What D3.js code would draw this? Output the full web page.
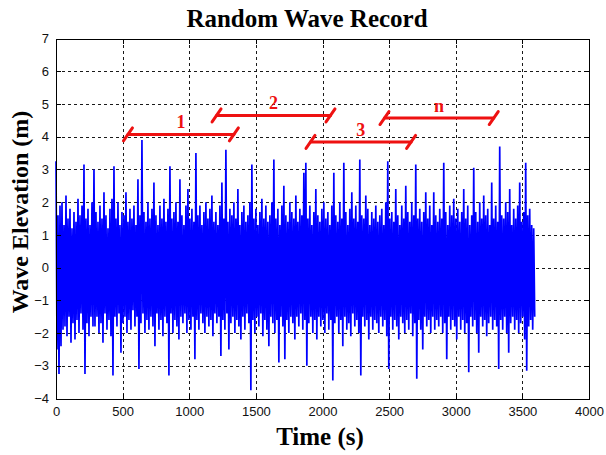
<!DOCTYPE html>
<html>
<head>
<meta charset="utf-8">
<script src="https://cdn.jsdelivr.net/npm/d3@7/dist/d3.min.js"></script>
<style>
  html, body { margin: 0; padding: 0; background: #fff; }
  svg { display: block; }
</style>
</head>
<body>
<svg id="chart" width="606" height="455"></svg>
<script>
// ---------------- DATA ----------------
const title = "Random Wave Record";
const xLabel = "Time (s)";
const yLabel = "Wave Elevation (m)";
const xTicks = [0, 500, 1000, 1500, 2000, 2500, 3000, 3500, 4000];
const yTicks = [-4, -3, -2, -1, 0, 1, 2, 3, 4, 5, 6, 7];
const sampleStep = 15;   // s between successive crests (troughs sit halfway)

// crest elevations (m), one per 15 s from t = 0
const crests = [
  3.25, 1.6, 1.9, 2.0, 1.3, 2.2, 1.5, 1.8, 1.2, 1.7,
  1.4, 2.1, 1.6, 1.9, 3.15, 1.5, 1.8, 1.3, 2.0, 3.0,
  1.7, 1.4, 1.9, 1.5, 2.3, 1.6, 1.2, 1.8, 2.1, 3.1,
  1.5, 2.0, 1.3, 1.7, 1.6, 2.3, 1.4, 1.8, 1.5, 1.9,
  1.3, 2.7, 1.6, 3.9, 1.7, 1.4, 2.0, 1.5, 1.8, 2.6,
  1.6, 1.3, 1.9, 1.5, 2.1, 1.4, 1.8, 3.1, 1.5, 1.7,
  2.0, 1.4, 2.7, 1.6, 1.3, 1.9, 2.4, 1.5, 1.8, 1.4,
  3.5, 1.6, 1.9, 1.3, 1.7, 2.0, 1.5, 1.8, 2.2, 1.4,
  1.7, 1.3, 1.9, 2.6, 1.5, 3.6, 1.4, 1.8, 1.6, 2.0,
  1.5, 2.4, 1.3, 1.7, 1.9, 1.4, 1.6, 2.0, 3.15, 1.5,
  1.8, 1.3, 1.7, 2.1, 1.5, 1.9, 1.4, 1.6, 2.0, 3.3,
  1.5, 1.8, 1.3, 1.9, 2.5, 1.6, 1.4, 2.0, 1.7, 1.5,
  2.2, 1.4, 1.8, 1.6, 2.9, 3.2, 1.5, 1.9, 1.3, 1.7,
  2.4, 1.6, 1.4, 1.8, 2.0, 1.5, 1.7, 1.3, 1.9, 2.9,
  1.6, 1.4, 2.0, 1.5, 3.2, 1.7, 1.3, 1.8, 2.3, 1.5,
  1.9, 1.4, 3.3, 1.6, 1.5, 2.2, 1.8, 1.3, 1.7, 1.5,
  1.9, 1.4, 1.6, 1.8, 1.3, 2.0, 3.25, 1.5, 1.7, 1.4,
  2.4, 1.6, 1.3, 1.9, 1.5, 2.5, 1.7, 1.4, 2.0, 1.6,
  3.15, 1.5, 1.8, 1.4, 1.7, 2.3, 1.5, 1.9, 1.3, 2.3,
  1.6, 1.4, 1.8, 1.5, 3.2, 1.7, 1.3, 1.9, 1.6, 2.1,
  1.5, 1.8, 1.4, 1.7, 2.4, 1.5, 1.9, 1.3, 1.6, 3.05,
  1.7, 1.4, 2.0, 1.5, 2.2, 1.6, 1.8, 1.3, 2.6, 1.5,
  1.9, 1.4, 3.7, 1.6, 1.5, 2.0, 1.7, 2.4, 1.3, 1.8,
  1.5, 1.9, 2.6, 1.4, 1.7, 3.2, 1.6, 1.8, 1.3, 1.2
];

// trough elevations (m), one per 15 s from t = 7.5
const troughs = [
  -2.5, -3.25, -2.4, -1.9, -1.8, -2.1, -1.5, -2.3, -1.7, -2.2,
  -1.6, -2.0, -1.4, -1.9, -3.25, -1.7, -2.1, -1.5, -1.8, -1.8,
  -1.5, -2.0, -1.7, -2.3, -1.4, -1.9, -1.6, -2.1, -3.3, -1.5,
  -1.8, -1.4, -2.6, -1.7, -1.5, -2.0, -1.6, -1.9, -1.3, -1.8,
  -1.5, -3.1, -1.7, -1.4, -2.0, -1.6, -1.9, -1.5, -1.8, -2.4,
  -1.4, -1.9, -1.6, -2.1, -1.5, -1.7, -3.3, -1.4, -2.0, -1.6,
  -1.8, -2.2, -1.5, -1.7, -1.4, -2.0, -1.6, -1.9, -1.5, -2.8,
  -1.6, -1.9, -1.4, -1.7, -2.0, -1.5, -1.8, -1.6, -2.1, -1.4,
  -1.7, -1.5, -2.7, -1.6, -1.9, -1.4, -2.5, -1.7, -1.5, -2.0,
  -1.6, -1.8, -2.2, -1.5, -1.9, -1.4, -1.7, -3.75, -1.6, -2.0,
  -1.5, -1.8, -1.4, -2.1, -1.6, -1.9, -2.4, -1.5, -1.7, -2.0,
  -1.6, -2.9, -1.5, -1.8, -2.8, -1.6, -2.0, -1.5, -1.7, -2.2,
  -1.5, -1.8, -1.4, -1.9, -1.6, -3.0, -1.7, -1.5, -2.0, -1.6,
  -2.2, -1.5, -1.8, -1.6, -2.0, -1.4, -1.9, -1.6, -3.45, -1.7,
  -1.5, -2.0, -1.6, -2.4, -1.5, -1.9, -1.7, -2.1, -1.4, -1.8,
  -1.6, -2.0, -3.3, -1.5, -1.8, -1.6, -2.2, -1.5, -1.9, -1.6,
  -1.7, -2.0, -1.5, -1.8, -1.6, -2.1, -3.1, -1.5, -1.9, -1.6,
  -1.8, -2.2, -1.5, -1.7, -2.0, -1.6, -1.9, -1.4, -2.1, -1.7,
  -3.4, -1.6, -1.9, -2.5, -1.5, -1.8, -1.6, -2.0, -1.5, -1.9,
  -1.6, -1.8, -1.5, -2.0, -1.7, -2.8, -1.5, -1.9, -1.6, -1.8,
  -2.2, -1.5, -1.9, -1.6, -2.0, -1.7, -3.2, -1.5, -1.8, -1.6,
  -2.0, -2.6, -1.5, -1.8, -1.6, -2.1, -1.7, -1.5, -1.9, -1.6,
  -1.8, -3.1, -1.6, -1.9, -1.5, -2.0, -2.6, -1.7, -1.5, -1.9,
  -1.6, -2.0, -1.7, -1.5, -2.2, -3.15, -1.8, -1.6, -1.9, -1.5
];

// record segments marked with red brackets
const segLabels = ["1", "2", "3", "n"];
const segStart  = [540, 1205, 1910, 2465];
const segEnd    = [1335, 2060, 2665, 3285];
const segLevel  = [4.07, 4.65, 3.84, 4.57];

// ---------------- LAYOUT ----------------
const svg = d3.select("#chart");
const L = 56, R = 589, T = 38.5, B = 398.5;

const x = d3.scaleLinear().domain([0, 4000]).range([L, R]);
const y = d3.scaleLinear().domain([-4, 7]).range([B, T]);

// build the record from crests and troughs
const record = [];
crests.forEach((c, k) => {
  record.push({ t: k * sampleStep, v: c });
  record.push({ t: k * sampleStep + sampleStep / 2, v: troughs[k] });
});

// grid
const grid = svg.append("g").attr("stroke", "#1a1a1a").attr("stroke-width", 1)
  .attr("stroke-dasharray", "3,3").attr("shape-rendering", "crispEdges");
grid.selectAll("line.gx").data(xTicks.slice(1, -1)).join("line")
  .attr("x1", d => Math.round(x(d)) + 0.5).attr("x2", d => Math.round(x(d)) + 0.5)
  .attr("y1", T).attr("y2", B);
grid.selectAll("line.gy").data(yTicks.slice(1, -1)).join("line")
  .attr("y1", d => Math.round(y(d)) + 0.5).attr("y2", d => Math.round(y(d)) + 0.5)
  .attr("x1", L).attr("x2", R);

// wave record
const line = d3.line().x(d => x(d.t)).y(d => y(d.v));
svg.append("path").datum(record)
  .attr("d", line)
  .attr("fill", "none")
  .attr("stroke", "#0000ff")
  .attr("stroke-width", 1.7)
  .attr("stroke-linejoin", "bevel");

// axes (MATLAB style, inward ticks, box)
const fmt = d3.format("d");
const axisB = d3.axisBottom(x).tickValues(xTicks).tickFormat(fmt).tickSizeInner(-5).tickSizeOuter(0).tickPadding(8);
const axisL = d3.axisLeft(y).tickValues(yTicks).tickFormat(fmt).tickSizeInner(-5).tickSizeOuter(0).tickPadding(7);
const axisT = d3.axisTop(x).tickValues(xTicks).tickSizeInner(-5).tickSizeOuter(0).tickFormat("");
const axisRt = d3.axisRight(y).tickValues(yTicks).tickSizeInner(-5).tickSizeOuter(0).tickFormat("");

function styleAxis(g) {
  g.selectAll("path, line").attr("stroke", "#000").attr("shape-rendering", "crispEdges");
  g.selectAll("text").attr("fill", "#111")
    .style("font-family", "'Liberation Sans', Arial, sans-serif")
    .style("font-size", "13px");
}
svg.append("g").attr("transform", `translate(0,${B})`).call(axisB).call(styleAxis);
svg.append("g").attr("transform", `translate(${L},0)`).call(axisL).call(styleAxis);
svg.append("g").attr("transform", `translate(0,${T})`).call(axisT).call(styleAxis);
svg.append("g").attr("transform", `translate(${R},0)`).call(axisRt).call(styleAxis);

// brackets
const red = "#ee1111";
const br = svg.append("g").attr("stroke", red).attr("stroke-width", 3).attr("stroke-linecap", "round");
segLabels.forEach((lab, i) => {
  const x0 = x(segStart[i]), x1 = x(segEnd[i]), yy = y(segLevel[i]);
  br.append("line").attr("x1", x0).attr("x2", x1).attr("y1", yy).attr("y2", yy);
  [x0, x1].forEach(xe => {
    br.append("line").attr("x1", xe - 4.5).attr("y1", yy + 6.5)
      .attr("x2", xe + 4.5).attr("y2", yy - 6.5);
  });
  svg.append("text")
    .attr("x", (x0 + x1) / 2).attr("y", yy - 6)
    .attr("text-anchor", "middle")
    .attr("fill", red)
    .style("font-family", "'Liberation Serif', 'Times New Roman', serif")
    .style("font-weight", "bold")
    .style("font-size", "18px")
    .text(lab);
});

// titles
const serif = "'Liberation Serif', 'Times New Roman', serif";
svg.append("text").attr("x", 307).attr("y", 27).attr("text-anchor", "middle")
  .style("font-family", serif).style("font-weight", "bold").style("font-size", "25px")
  .attr("fill", "#000").text(title);
svg.append("text").attr("x", 320).attr("y", 445).attr("text-anchor", "middle")
  .style("font-family", serif).style("font-weight", "bold").style("font-size", "25px")
  .attr("fill", "#000").text(xLabel);
svg.append("text").attr("transform", "translate(28,212) rotate(-90)").attr("text-anchor", "middle")
  .style("font-family", serif).style("font-weight", "bold").style("font-size", "24px")
  .attr("fill", "#000").text(yLabel);
</script>
</body>
</html>
